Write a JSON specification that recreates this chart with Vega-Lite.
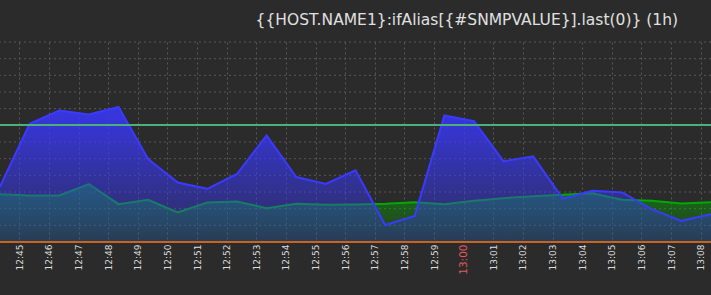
{
  "$schema": "https://vega.github.io/schema/vega-lite/v6.json",
  "width": 711,
  "height": 200,
  "autosize": {"type": "none"},
  "padding": {"left": 0, "top": 42, "right": 0, "bottom": 53},
  "background": "#2b2b2b",
  "title": {
    "text": "{{HOST.NAME1}:ifAlias[{#SNMPVALUE}].last(0)} (1h)",
    "anchor": "end",
    "frame": "group",
    "baseline": "middle",
    "offset": 6,
    "dx": -33,
    "font": "DejaVu Sans",
    "fontSize": 15.5,
    "fontWeight": "normal",
    "color": "#e0e0e0"
  },
  "config": {
    "view": {"stroke": null, "fill": "#2b2b2b"},
    "axis": {"labelFont": "DejaVu Sans"}
  },
  "datasets": {
    "series": [
      {"t": "2024-01-01T12:44:21Z", "blue": 3.33, "green": 2.87},
      {"t": "2024-01-01T12:45:21Z", "blue": 7.09, "green": 2.79},
      {"t": "2024-01-01T12:46:21Z", "blue": 7.89, "green": 2.79},
      {"t": "2024-01-01T12:47:21Z", "blue": 7.65, "green": 3.48},
      {"t": "2024-01-01T12:48:21Z", "blue": 8.11, "green": 2.27},
      {"t": "2024-01-01T12:49:21Z", "blue": 4.98, "green": 2.53},
      {"t": "2024-01-01T12:50:21Z", "blue": 3.57, "green": 1.77},
      {"t": "2024-01-01T12:51:21Z", "blue": 3.19, "green": 2.37},
      {"t": "2024-01-01T12:52:21Z", "blue": 4.08, "green": 2.43},
      {"t": "2024-01-01T12:53:21Z", "blue": 6.40, "green": 2.03},
      {"t": "2024-01-01T12:54:21Z", "blue": 3.90, "green": 2.29},
      {"t": "2024-01-01T12:55:21Z", "blue": 3.48, "green": 2.23},
      {"t": "2024-01-01T12:56:21Z", "blue": 4.30, "green": 2.25},
      {"t": "2024-01-01T12:57:21Z", "blue": 1.02, "green": 2.29},
      {"t": "2024-01-01T12:58:21Z", "blue": 1.57, "green": 2.38},
      {"t": "2024-01-01T12:59:21Z", "blue": 7.59, "green": 2.26},
      {"t": "2024-01-01T13:00:21Z", "blue": 7.25, "green": 2.47},
      {"t": "2024-01-01T13:01:21Z", "blue": 4.84, "green": 2.63},
      {"t": "2024-01-01T13:02:21Z", "blue": 5.14, "green": 2.75},
      {"t": "2024-01-01T13:03:21Z", "blue": 2.59, "green": 2.83},
      {"t": "2024-01-01T13:04:21Z", "blue": 3.07, "green": 2.93},
      {"t": "2024-01-01T13:05:21Z", "blue": 2.97, "green": 2.53},
      {"t": "2024-01-01T13:06:21Z", "blue": 1.97, "green": 2.47},
      {"t": "2024-01-01T13:07:21Z", "blue": 1.27, "green": 2.31},
      {"t": "2024-01-01T13:08:21Z", "blue": 1.67, "green": 2.39}
    ],
    "levels": [
      {"v": 1}, {"v": 2}, {"v": 3}, {"v": 4}, {"v": 5}, {"v": 6},
      {"v": 8}, {"v": 9}, {"v": 10}, {"v": 11}, {"v": 12}
    ]
  },
  "data": {"name": "series"},
  "layer": [
    {
      "data": {"name": "levels"},
      "mark": {"type": "rule", "color": "#585858", "strokeDash": [2, 3], "strokeWidth": 1},
      "encoding": {
        "y": {
          "field": "v",
          "type": "quantitative",
          "scale": {"domain": [0, 12], "nice": false},
          "axis": null
        }
      }
    },
    {
      "mark": {
        "type": "area",
        "color": {
          "gradient": "linear", "x1": 0, "y1": 0, "x2": 0, "y2": 1,
          "stops": [
            {"offset": 0, "color": "rgba(0,175,0,0.55)"},
            {"offset": 1, "color": "rgba(0,175,0,0.12)"}
          ]
        }
      },
      "encoding": {
        "x": {
          "field": "t",
          "type": "temporal",
          "axis": {
            "title": null,
            "grid": true,
            "gridColor": "#585858",
            "gridDash": [2, 3],
            "ticks": false,
            "domain": false,
            "format": "%H:%M",
            "labelAngle": 270,
            "labelFontSize": {"condition": {"test": "datum.label == '13:00'", "value": 10.5}, "value": 9},
            "labelColor": {"condition": {"test": "datum.label == '13:00'", "value": "#e05a5a"}, "value": "#dddddd"}
          }
        },
        "y": {"field": "green", "type": "quantitative", "axis": null}
      }
    },
    {
      "mark": {"type": "line", "color": "#00aa00", "strokeWidth": 2},
      "encoding": {
        "x": {"field": "t", "type": "temporal"},
        "y": {"field": "green", "type": "quantitative", "axis": null}
      }
    },
    {
      "mark": {
        "type": "area",
        "color": {
          "gradient": "linear", "x1": 0, "y1": 0, "x2": 0, "y2": 1,
          "stops": [
            {"offset": 0, "color": "rgba(56,56,255,0.88)"},
            {"offset": 1, "color": "rgba(56,56,255,0.22)"}
          ]
        }
      },
      "encoding": {
        "x": {"field": "t", "type": "temporal"},
        "y": {"field": "blue", "type": "quantitative", "axis": null}
      }
    },
    {
      "mark": {"type": "line", "color": "#3a3aff", "strokeWidth": 2},
      "encoding": {
        "x": {"field": "t", "type": "temporal"},
        "y": {"field": "blue", "type": "quantitative", "axis": null}
      }
    },
    {
      "mark": {"type": "rule", "color": "#4caf7c", "strokeWidth": 1.5},
      "encoding": {"y": {"datum": 7, "axis": null}}
    },
    {
      "mark": {"type": "rule", "color": "#c8641e", "strokeWidth": 2},
      "encoding": {"y": {"datum": 0, "axis": null}}
    }
  ]
}
